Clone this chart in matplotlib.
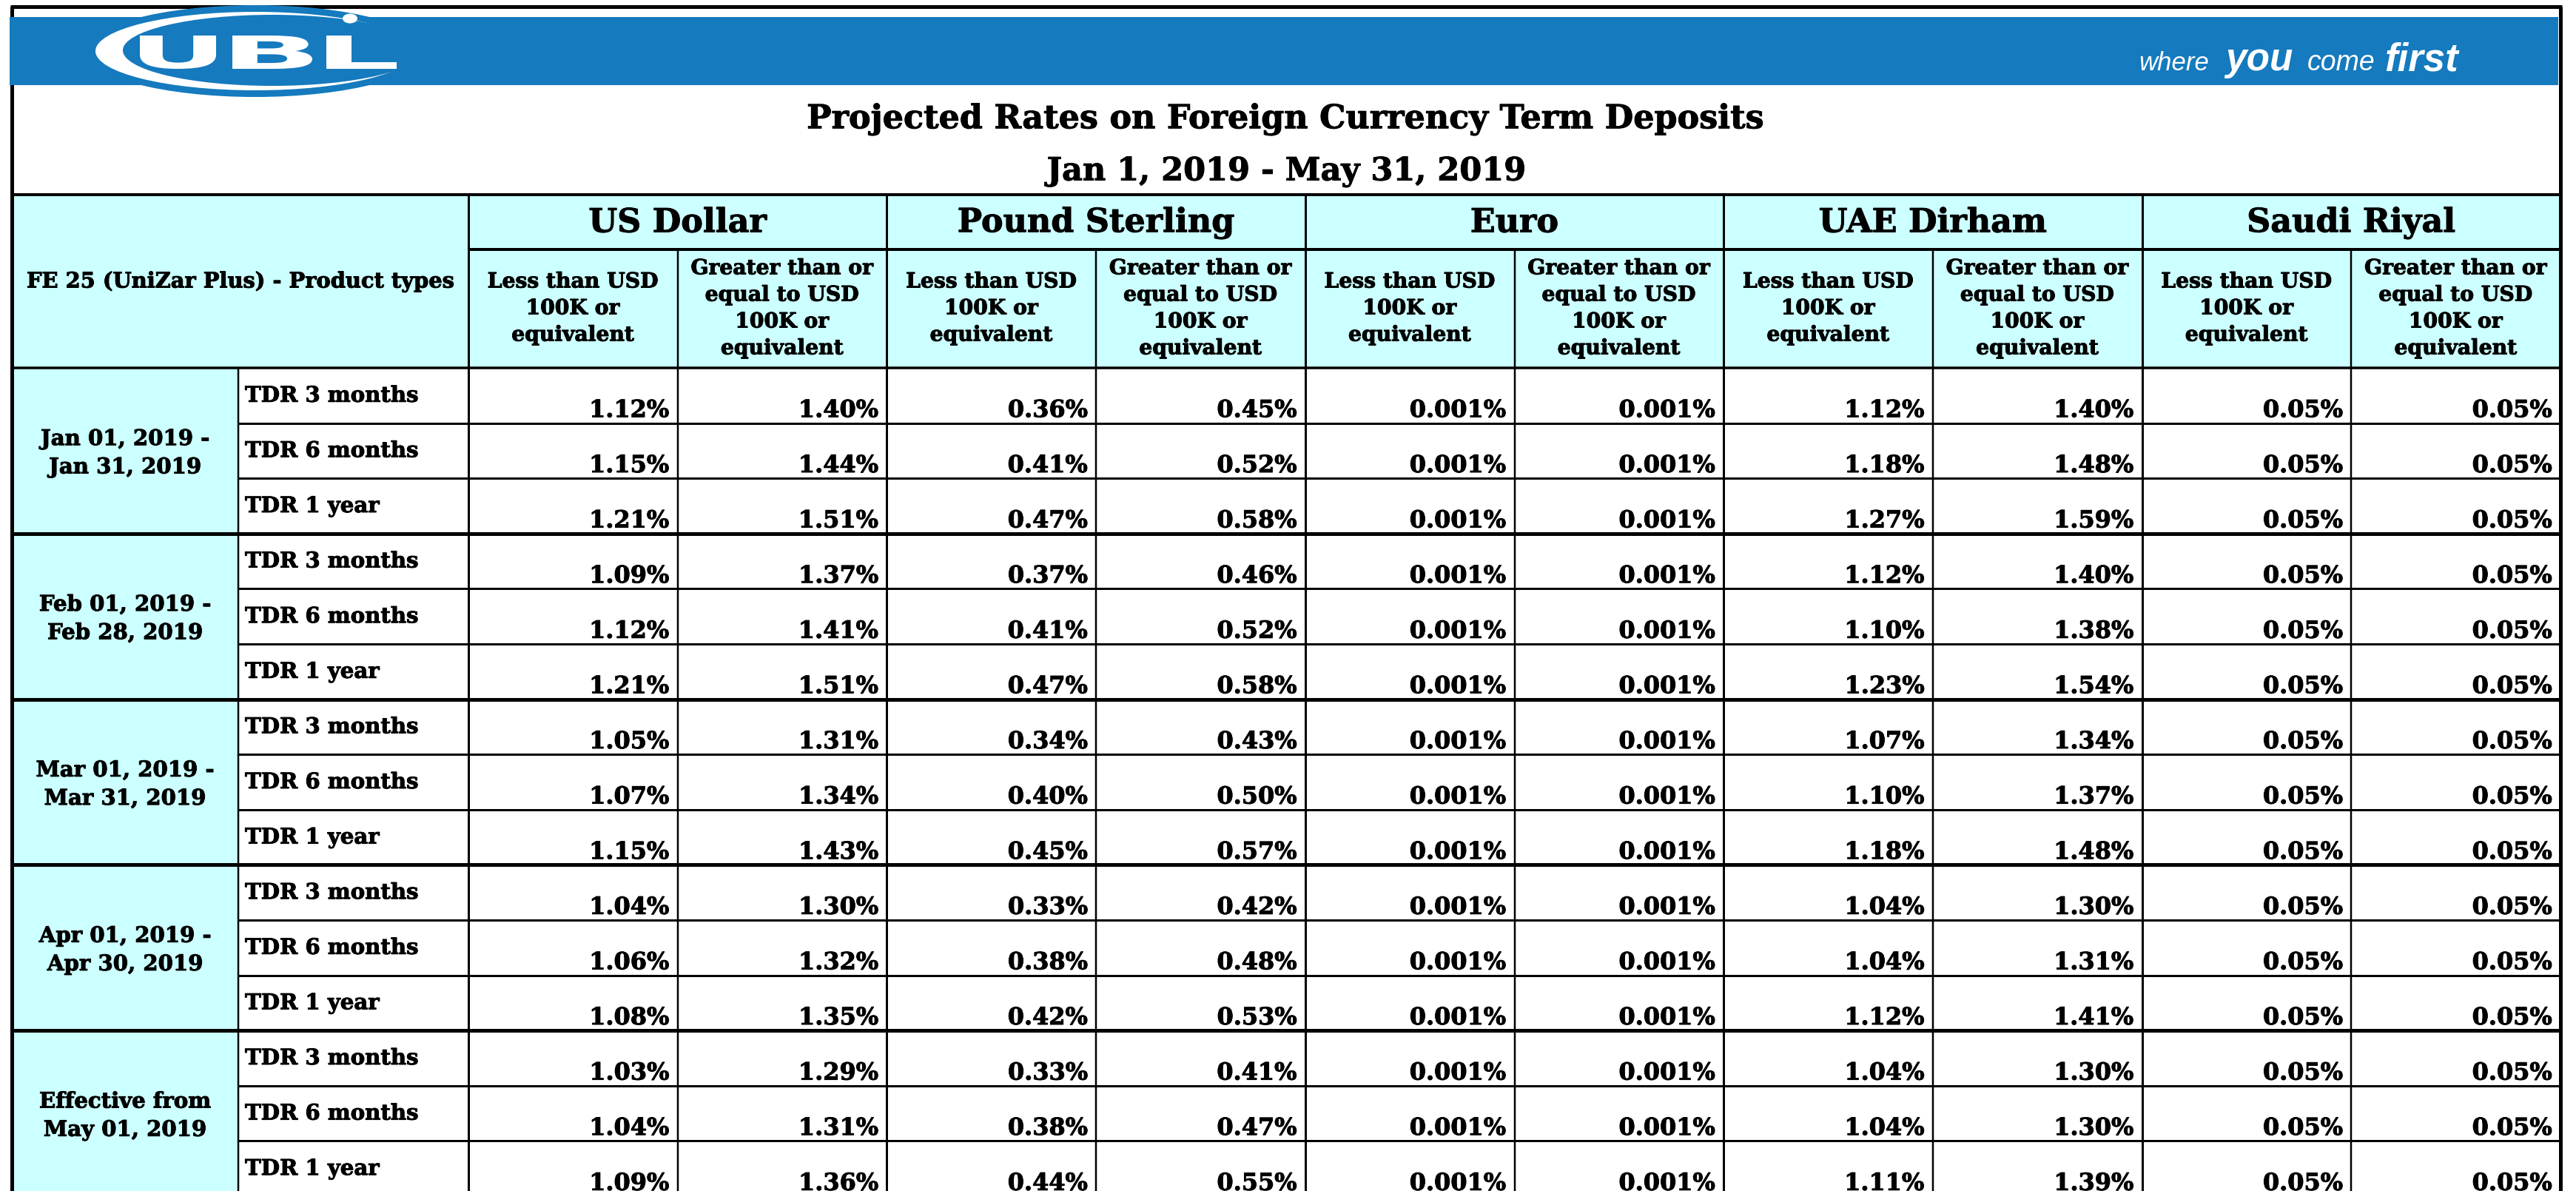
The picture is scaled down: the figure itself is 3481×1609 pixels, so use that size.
import matplotlib
matplotlib.use("Agg")
import matplotlib.pyplot as plt
from matplotlib.patches import Rectangle, Ellipse, PathPatch
from matplotlib.textpath import TextPath
from matplotlib.font_manager import FontProperties
from matplotlib.path import Path
import matplotlib.patheffects as pe
import numpy as np

# ---------------- data ----------------
title_line1 = "Projected Rates on Foreign Currency Term Deposits"
title_line2 = "Jan 1, 2019 - May 31, 2019"
corner_header = "FE 25 (UniZar Plus) - Product types"
currencies = ["US Dollar", "Pound Sterling", "Euro", "UAE Dirham", "Saudi Riyal"]
tiers = ["Less than USD\n100K or\nequivalent",
         "Greater than or\nequal to USD\n100K or\nequivalent"]
periods = ["Jan 01, 2019 -\nJan 31, 2019",
           "Feb 01, 2019 -\nFeb 28, 2019",
           "Mar 01, 2019 -\nMar 31, 2019",
           "Apr 01, 2019 -\nApr 30, 2019",
           "Effective from\nMay 01, 2019"]
products = ["TDR 3 months", "TDR 6 months", "TDR 1 year"]
decimals = [2, 2, 3, 2, 2]

usd_less = [1.12, 1.15, 1.21, 1.09, 1.12, 1.21, 1.05, 1.07, 1.15, 1.04, 1.06, 1.08, 1.03, 1.04, 1.09]
usd_more = [1.40, 1.44, 1.51, 1.37, 1.41, 1.51, 1.31, 1.34, 1.43, 1.30, 1.32, 1.35, 1.29, 1.31, 1.36]
gbp_less = [0.36, 0.41, 0.47, 0.37, 0.41, 0.47, 0.34, 0.40, 0.45, 0.33, 0.38, 0.42, 0.33, 0.38, 0.44]
gbp_more = [0.45, 0.52, 0.58, 0.46, 0.52, 0.58, 0.43, 0.50, 0.57, 0.42, 0.48, 0.53, 0.41, 0.47, 0.55]
eur_less = [0.001] * 15
eur_more = [0.001] * 15
aed_less = [1.12, 1.18, 1.27, 1.12, 1.10, 1.23, 1.07, 1.10, 1.18, 1.04, 1.04, 1.12, 1.04, 1.04, 1.11]
aed_more = [1.40, 1.48, 1.59, 1.40, 1.38, 1.54, 1.34, 1.37, 1.48, 1.30, 1.31, 1.41, 1.30, 1.30, 1.39]
sar_less = [0.05] * 15
sar_more = [0.05] * 15

tagline_words = ["where", "you", "come", "first"]
logo_text = "UBL"

# ---------------- layout ----------------
W, H = 3481, 1609
BLUE = "#157ABE"
CYAN = "#CCFFFF"
SERIF = "DejaVu Serif"
HEAVY = [pe.withStroke(linewidth=0.7, foreground="black")]


def lw(pxv):
    return pxv * 0.72


fig = plt.figure(figsize=(W / 100, H / 100), dpi=100)
ax = fig.add_axes([0, 0, 1, 1])
ax.set_xlim(0, W)
ax.set_ylim(H, 0)
ax.axis("off")

L, R = 16, 3460
TOP = 9
x_period, x_prod, x_val0 = L, 322, 633
col_w = (R - x_val0) / 10.0
col_x = [x_val0 + i * col_w for i in range(11)]
t_top, t_cur, t_head = 263, 337, 497
row_h = 74.6
n_rows = len(periods) * len(products)
row_y = [t_head + i * row_h for i in range(n_rows + 1)]
bottom = H + 20

# fills
ax.add_patch(Rectangle((L, t_top), R - L, t_head - t_top, facecolor=CYAN, edgecolor="none", zorder=0))
ax.add_patch(Rectangle((L, t_head), x_prod - L, bottom - t_head, facecolor=CYAN, edgecolor="none", zorder=0))

# outer border
ax.hlines(TOP, L - 2, R + 2, color="black", lw=lw(5), zorder=3)
ax.vlines([L, R], TOP, bottom, color="black", lw=lw(5), zorder=3)

# blue banner
ax.add_patch(Rectangle((13, 23), 3457 - 13, 115 - 23, facecolor=BLUE, edgecolor="none", zorder=4))

# logo
ax.add_patch(Ellipse((345, 69), 460, 124, facecolor=BLUE, edgecolor="none", zorder=5))
ax.add_patch(Ellipse((345, 69), 432, 106, facecolor="white", edgecolor="none", zorder=6))
ax.add_patch(Ellipse((368, 68), 404, 96, facecolor=BLUE, edgecolor="none", zorder=7))
ax.add_patch(Ellipse((473, 25), 20, 13, facecolor="white", edgecolor="none", zorder=8))

logo_boxes = [(189, 292), (314, 422), (441, 536)]
fp_logo = FontProperties(family="DejaVu Sans", weight="bold")
for ch, (x0, x1) in zip(logo_text, logo_boxes):
    tp = TextPath((0, 0), ch, size=100, prop=fp_logo)
    v = tp.vertices.copy()
    codes = tp.codes
    real = v[codes != Path.CLOSEPOLY] if codes is not None else v
    bx0, by0 = real[:, 0].min(), real[:, 1].min()
    bx1, by1 = real[:, 0].max(), real[:, 1].max()
    y0, y1 = 48, 93
    nv = np.empty_like(v)
    nv[:, 0] = x0 + (v[:, 0] - bx0) / (bx1 - bx0) * (x1 - x0)
    nv[:, 1] = y1 - (v[:, 1] - by0) / (by1 - by0) * (y1 - y0)
    ax.add_patch(PathPatch(Path(nv, codes), facecolor="white", edgecolor="none", zorder=9))

# tagline
tag_x = [2890, 3007, 3118, 3222]
tag_sz = [25, 37, 27, 38]
tag_wt = ["normal", "bold", "normal", "bold"]
for wd, x, s, wt in zip(tagline_words, tag_x, tag_sz, tag_wt):
    ax.text(x, 95, wd, fontsize=s, fontweight=wt, fontstyle="italic",
            family="Liberation Sans", color="white", ha="left", va="baseline", zorder=9)

# titles
cx = (L + R) / 2
ax.text(cx, 161, title_line1, fontsize=32, fontweight="bold", family=SERIF, ha="center", va="center",
        zorder=5, path_effects=HEAVY)
ax.text(cx, 232, title_line2, fontsize=31, fontweight="bold", family=SERIF, ha="center", va="center",
        zorder=5, path_effects=HEAVY)

# table lines
ax.hlines(t_top, L, R, color="black", lw=lw(4), zorder=3)
ax.hlines(t_cur, x_val0, R, color="black", lw=lw(4), zorder=3)
ax.hlines(t_head, L, R, color="black", lw=lw(3.5), zorder=3)
for i in range(1, n_rows):
    if i % 3 == 0:
        ax.hlines(row_y[i], L, R, color="black", lw=lw(5), zorder=3)
    else:
        ax.hlines(row_y[i], x_prod, R, color="black", lw=lw(3), zorder=3)
ax.vlines(x_prod, t_head, bottom, color="black", lw=lw(2.5), zorder=3)
for i in range(0, 10):
    if i % 2 == 0:
        ax.vlines(col_x[i], t_top, bottom, color="black", lw=lw(3), zorder=3)
    else:
        ax.vlines(col_x[i], t_cur, bottom, color="black", lw=lw(2.5), zorder=3)

# header texts
ax.text((L + x_val0) / 2, (t_top + t_head) / 2, corner_header, fontsize=20.8, fontweight="bold",
        family=SERIF, ha="center", va="center", zorder=5, path_effects=HEAVY)
for k, cur in enumerate(currencies):
    ax.text((col_x[2 * k] + col_x[2 * k + 2]) / 2, (t_top + t_cur) / 2 + 1, cur, fontsize=32,
            fontweight="bold", family=SERIF, ha="center", va="center", zorder=5, path_effects=HEAVY)
    for j, tier in enumerate(tiers):
        ax.text((col_x[2 * k + j] + col_x[2 * k + j + 1]) / 2, (t_cur + t_head) / 2, tier,
                fontsize=20.3, fontweight="bold", family=SERIF, ha="center", va="center",
                linespacing=1.43, multialignment="center", zorder=5, path_effects=HEAVY)

# period / product labels
for g, per in enumerate(periods):
    gy = (row_y[3 * g] + row_y[3 * g + 3]) / 2 + 3
    ax.text((x_period + x_prod) / 2, gy, per, fontsize=21, fontweight="bold", family=SERIF,
            ha="center", va="center", linespacing=1.4, multialignment="center", zorder=5,
            path_effects=HEAVY)
    for p, prod in enumerate(products):
        r = 3 * g + p
        ax.text(x_prod + 9, row_y[r] + 0.5 * row_h, prod, fontsize=21, fontweight="bold",
                family=SERIF, ha="left", va="center", zorder=5, path_effects=HEAVY)

# values
series = [usd_less, usd_more, gbp_less, gbp_more, eur_less, eur_more,
          aed_less, aed_more, sar_less, sar_more]
for c, vals in enumerate(series):
    dec = decimals[c // 2]
    for r, v in enumerate(vals):
        ax.text(col_x[c + 1] - 11, row_y[r] + 0.89 * row_h, f"{v:.{dec}f}%", fontsize=23,
                fontweight="bold", family=SERIF, ha="right", va="baseline", zorder=5,
                path_effects=HEAVY)

fig.savefig("out.png", dpi=100, facecolor="white")
